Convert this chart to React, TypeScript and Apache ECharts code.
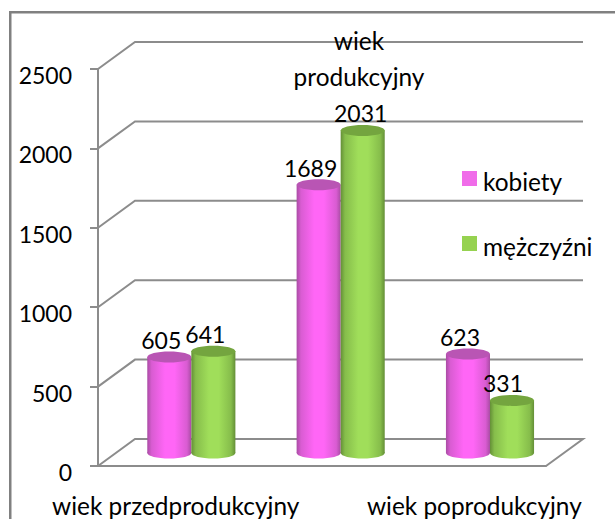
import React, { useEffect, useRef } from "react";
import * as echarts from "echarts";

const categories = ["wiek przedprodukcyjny", "wiek produkcyjny", "wiek poprodukcyjny"];
const kobiety = [605, 1689, 623];
const mezczyzni = [641, 2031, 331];
const yTicks = [0, 500, 1000, 1500, 2000, 2500];

const FONT = "Lato, Carlito, Calibri, sans-serif";
const TEXT_SIZE = 24.4;
const DIGIT_SIZE = 23;
const DEPTH_X = 37;
const DEPTH_Y = 27;
const GREY = "#8c8c8c";

type Look = { side: number; edge: string; soft: string; mid: string; cap: string; labelDx: number[] };
const pink: Look = { side: -1, edge: "#a94ca4", soft: "#d95cd2", mid: "#ff66f6", cap: "#b955b4", labelDx: [-8, -8, -8] };
const green: Look = { side: 1, edge: "#648f37", soft: "#86bd4b", mid: "#a0de5a", cap: "#74a53f", labelDx: [-8, -2, -9] };

function cylinder(look: Look) {
  return (params: any, api: any) => {
    const i = api.value(0);
    const v = api.value(1);
    const band = api.size([1, 0])[0];
    const base = api.coord([i, 0]);
    const top = api.coord([i, v]);
    const w = band * 0.295;
    const cx = base[0] + band * 0.125 + (look.side * w) / 2;
    const lift = 13;
    const yTop = top[1] - lift;
    const yBase = base[1] - lift;
    const ry = 5.5;
    const fill = new echarts.graphic.LinearGradient(0, 0, 1, 0, [
      { offset: 0, color: look.edge },
      { offset: 0.1, color: look.soft },
      { offset: 0.4, color: look.mid },
      { offset: 0.62, color: look.mid },
      { offset: 0.9, color: look.soft },
      { offset: 1, color: look.edge },
    ]);
    return {
      type: "group",
      children: [
        { type: "ellipse", shape: { cx, cy: yBase, rx: w / 2, ry }, style: { fill } },
        { type: "rect", shape: { x: cx - w / 2, y: yTop, width: w, height: yBase - yTop }, style: { fill } },
        { type: "ellipse", shape: { cx, cy: yTop, rx: w / 2, ry }, style: { fill: look.cap } },
        {
          type: "text",
          style: {
            text: String(v),
            x: cx + look.labelDx[i],
            y: yTop - 17,
            align: "center",
            verticalAlign: "middle",
            font: `${DIGIT_SIZE}px ${FONT}`,
            fill: "#000",
          },
          z2: 50,
        },
      ],
    };
  };
}

function wall(params: any, api: any) {
  const v = api.value(1);
  const y = api.coord([0, v])[1];
  const { x, width } = params.coordSys;
  const points = [
    [x, y],
    [x + DEPTH_X, y - DEPTH_Y],
    [x + width + DEPTH_X, y - DEPTH_Y],
  ];
  if (v === 0) points.push([x + width, y]);
  return {
    type: "polyline",
    shape: { points },
    style: { stroke: GREY, lineWidth: 2, fill: "none" },
  };
}

export default function App() {
  const ref = useRef<HTMLDivElement>(null);
  useEffect(() => {
    const chart = echarts.init(ref.current!, null, { renderer: "svg" });
    chart.setOption({
      animation: false,
      backgroundColor: "#fff",
      grid: { left: 98, right: 69, top: 69, bottom: 53 },
      legend: {
        data: ["kobiety", "mężczyźni"],
        orient: "vertical",
        left: 457,
        top: 164,
        itemWidth: 15,
        itemHeight: 15,
        itemGap: 41,
        icon: "rect",
        selectedMode: false,
        formatter: (name: string) => `{t|${name}}`,
        textStyle: {
          rich: {
            t: { fontFamily: FONT, fontSize: TEXT_SIZE, color: "#000", padding: [5, 0, 0, 1] },
          },
        },
      },
      xAxis: {
        type: "category",
        data: categories,
        axisLine: { lineStyle: { color: GREY, width: 2 } },
        axisTick: { length: 6, lineStyle: { color: GREY, width: 2 } },
        axisLabel: {
          margin: 27,
          padding: [0, 0, 0, 6],
          fontFamily: FONT,
          fontSize: TEXT_SIZE,
          color: "#000",
          interval: 0,
          formatter: (s: string) => (s === categories[1] ? "" : s),
        },
      },
      yAxis: {
        type: "value",
        min: 0,
        max: 2500,
        interval: 500,
        axisLine: { show: true, lineStyle: { color: GREY, width: 2 } },
        axisTick: { show: true, length: 8, lineStyle: { color: GREY, width: 2 } },
        splitLine: { show: false },
        axisLabel: {
          margin: 26,
          verticalAlign: "top",
          lineHeight: 12,
          fontFamily: FONT,
          fontSize: DIGIT_SIZE,
          color: "#000",
          formatter: (v: number) => String(v),
        },
      },
      graphic: [
        {
          type: "rect",
          shape: { x: 9, y: 11, width: 606, height: 2.5 },
          style: { fill: "#808080" },
          silent: true,
          z: 50,
        },
        {
          type: "rect",
          shape: { x: 9, y: 11, width: 2.5, height: 508 },
          style: { fill: "#808080" },
          silent: true,
          z: 50,
        },
        {
          type: "text",
          x: 359,
          y: 58,
          z: 100,
          style: {
            text: categories[1].replace(" ", "\n"),
            align: "center",
            verticalAlign: "middle",
            font: `${TEXT_SIZE}px ${FONT}`,
            lineHeight: 36,
            fill: "#000",
          },
        },
      ],
      series: [
        { type: "custom", name: "wall", renderItem: wall, data: yTicks.map((v) => [0, v]), z: 1, silent: true },
        {
          type: "custom",
          name: "kobiety",
          renderItem: cylinder(pink),
          data: kobiety.map((v, i) => [i, v]),
          itemStyle: { color: "#f06ce9" },
          z: 3,
        },
        {
          type: "custom",
          name: "mężczyźni",
          renderItem: cylinder(green),
          data: mezczyzni.map((v, i) => [i, v]),
          itemStyle: { color: "#96d250" },
          z: 4,
        },
      ],
    });
    return () => chart.dispose();
  }, []);
  return <div ref={ref} style={{ position: "fixed", left: 0, top: 0, width: 615, height: 519 }} />;
}
